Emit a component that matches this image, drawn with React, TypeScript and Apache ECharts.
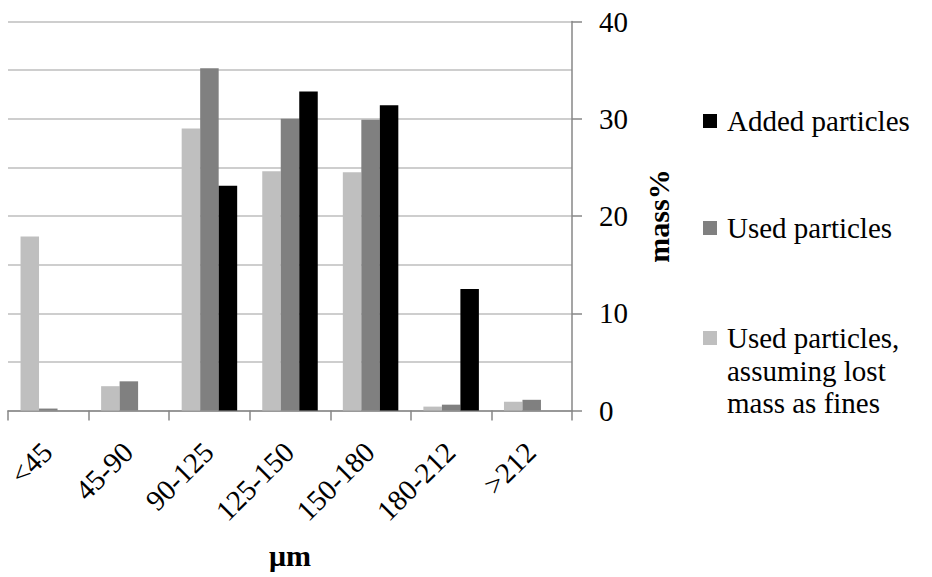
import { useEffect, useRef } from "react";
import * as echarts from "echarts";

// Particle size classes (µm)
const categories = ["<45", "45-90", "90-125", "125-150", "150-180", "180-212", ">212"];

// mass% per size class
const usedLostAsFines = [17.9, 2.5, 29.0, 24.6, 24.5, 0.4, 0.9];
const usedParticles = [0.2, 3.0, 35.2, 30.0, 29.9, 0.6, 1.1];
const addedParticles = [0, 0, 23.1, 32.8, 31.4, 12.5, 0];

const seriesNames = [
  "Used particles,\nassuming lost\nmass as fines",
  "Used particles",
  "Added particles",
];
const seriesColors = ["#BFBFBF", "#808080", "#000000"];

// Value axis ticks
const yMin = 0;
const yMax = 40;
const yStep = 10;

const serif = '"Times New Roman", "Liberation Serif", serif';
const axisGray = "#878787";
const gridGray = "#BEBEBE";
const textSize = 29;
const titleSize = 30;

// Legend line height; the three-line entry keeps its swatch beside the first line
const legendLine = 32.5;
const tallSwatch = `path://M0,${legendLine / 2 - 7}h14v14h-14Z M0,0 M0,${legendLine * 3}`;

export default function App() {
  const ref = useRef<HTMLDivElement>(null);

  useEffect(() => {
    if (!ref.current) return;
    const chart = echarts.init(ref.current, undefined, { renderer: "svg" });

    const legendBase = {
      orient: "vertical" as const,
      left: 703,
      padding: 0,
      icon: "rect",
      itemWidth: 14,
      itemHeight: 14,
      textStyle: {
        fontFamily: serif,
        fontSize: textSize,
        color: "#000",
        lineHeight: legendLine,
        padding: [0, 0, 0, 5],
      },
    };

    chart.setOption({
      animation: false,
      backgroundColor: "#ffffff",
      textStyle: { fontFamily: serif },
      grid: {
        left: 8,
        right: 360,
        top: 21.5,
        bottom: 166.5,
        containLabel: false,
        outerBoundsMode: "none",
      },
      xAxis: {
        type: "category",
        data: categories,
        name: "μm",
        nameLocation: "middle",
        nameGap: 129.5,
        nameMoveOverlap: false,
        nameTextStyle: {
          fontFamily: serif,
          fontSize: titleSize,
          fontWeight: "bold",
          color: "#000",
        },
        axisLine: { show: true, lineStyle: { color: axisGray, width: 1.5 } },
        axisTick: {
          show: true,
          interval: 0,
          length: 10,
          lineStyle: { color: axisGray, width: 1.5 },
        },
        axisLabel: {
          interval: 0,
          rotate: 45,
          align: "right",
          verticalAlign: "top",
          margin: 15,
          padding: [0, 16, 0, 0],
          fontFamily: serif,
          fontSize: textSize,
          color: "#000",
        },
        splitLine: { show: false },
      },
      yAxis: {
        type: "value",
        position: "right",
        min: yMin,
        max: yMax,
        interval: yStep,
        name: "mass%",
        nameLocation: "middle",
        nameRotate: 90,
        nameGap: 71,
        nameMoveOverlap: false,
        nameTextStyle: {
          fontFamily: serif,
          fontSize: titleSize,
          fontWeight: "bold",
          color: "#000",
        },
        axisLine: { show: true, lineStyle: { color: axisGray, width: 1.5 } },
        axisTick: {
          show: true,
          length: 10,
          lineStyle: { color: axisGray, width: 1.5 },
        },
        axisLabel: {
          margin: 27,
          fontFamily: serif,
          fontSize: textSize,
          color: "#000",
        },
        splitLine: { show: true, lineStyle: { color: gridGray, width: 1.5 } },
        minorTick: { show: false, splitNumber: 2 },
        minorSplitLine: { show: true, lineStyle: { color: gridGray, width: 1.5 } },
      },
      legend: [
        { ...legendBase, top: 121 - legendLine / 2, data: [seriesNames[2]] },
        { ...legendBase, top: 228 - legendLine / 2, data: [seriesNames[1]] },
        {
          ...legendBase,
          top: 338 - legendLine / 2,
          icon: tallSwatch,
          itemHeight: legendLine * 3,
          data: [seriesNames[0]],
        },
      ],
      series: [
        {
          name: seriesNames[0],
          type: "bar",
          data: usedLostAsFines,
          barWidth: 18.5,
          barGap: "0%",
          itemStyle: { color: seriesColors[0] },
        },
        {
          name: seriesNames[1],
          type: "bar",
          data: usedParticles,
          barWidth: 18.5,
          barGap: "0%",
          itemStyle: { color: seriesColors[1] },
        },
        {
          name: seriesNames[2],
          type: "bar",
          data: addedParticles,
          barWidth: 18.5,
          barGap: "0%",
          itemStyle: { color: seriesColors[2] },
        },
      ],
    });

    return () => chart.dispose();
  }, []);

  return (
    <div
      ref={ref}
      style={{
        position: "fixed",
        left: 0,
        top: 0,
        width: 932,
        height: 577,
        background: "#fff",
      }}
    />
  );
}
